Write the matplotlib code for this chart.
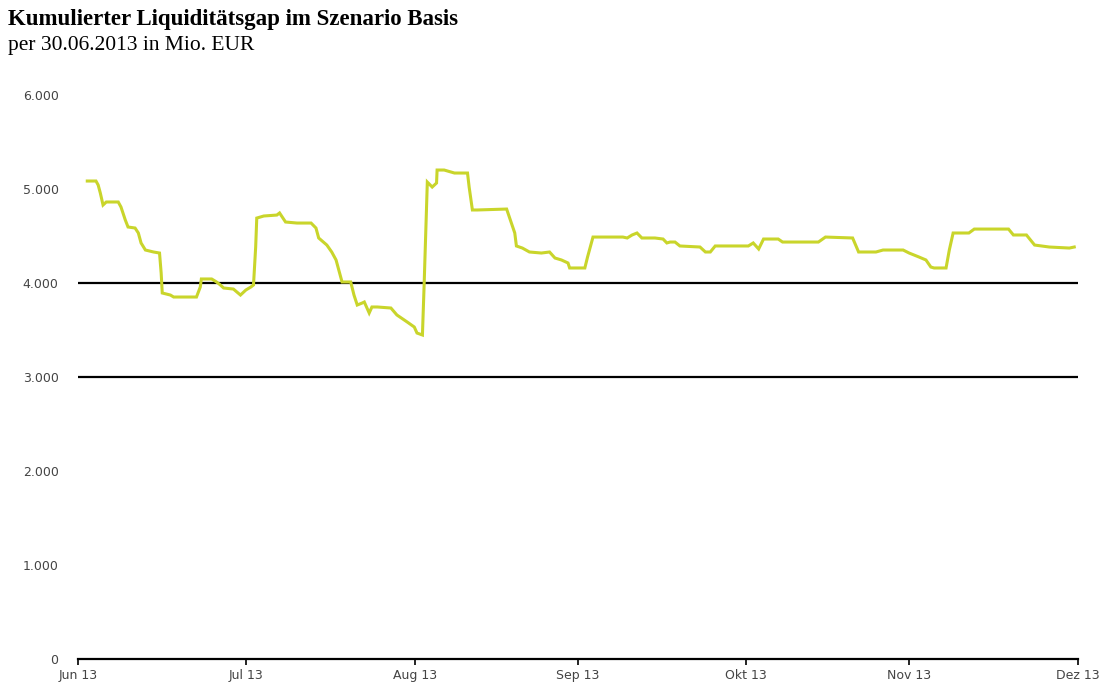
import matplotlib.pyplot as plt
import numpy as np

# Kumulierter Liquiditaetsgap, Tage ab 30.06.2013 und Werte in Mio. EUR
tage = [1.7, 3.3, 3.7, 4.1, 4.6, 5.2, 7.4, 7.9, 8.7, 9.2, 10.5, 11.1, 11.6, 12.4,
        13.9, 15.0, 15.3, 15.5, 17.0, 17.6, 21.8, 22.5, 22.7, 24.6, 25.5, 26.2,
        26.8, 28.6, 29.9, 30.9, 31.8, 32.3, 32.7, 32.9, 34.2, 36.6, 37.1, 38.2,
        40.3, 42.9, 43.8, 44.3, 45.8, 46.7, 47.5, 48.0, 48.6, 50.2, 50.8, 51.4,
        52.3, 52.7, 53.2, 53.6, 54.1, 55.1, 57.6, 58.7, 60.6, 61.9, 62.4, 63.4,
        63.7, 64.3, 65.2, 66.0, 66.1, 67.4, 69.3, 71.7, 72.0, 72.6, 73.5, 78.9,
        79.4, 80.4, 80.7, 81.8, 83.1, 85.3, 86.8, 87.8, 89.0, 90.2, 90.5, 93.3,
        93.8, 94.8, 100.3, 101.1, 102.0, 102.9, 103.8, 106.2, 107.7, 108.4,
        109.0, 109.9, 110.8, 114.5, 115.5, 116.4, 117.3, 123.4, 124.3, 125.3,
        126.2, 128.9, 129.7, 136.3, 137.6, 142.6, 143.7, 146.9, 148.2, 151.9,
        153.0, 154.8, 156.1, 157.0, 157.6, 159.8, 160.4, 161.1, 164.0, 165.0,
        171.3, 172.2, 174.6, 176.1, 178.8, 182.5, 183.4]
gap = [5085, 5085, 5043, 4957, 4830, 4862, 4862, 4809, 4670, 4596, 4585, 4532,
       4426, 4351, 4330, 4319, 4106, 3894, 3872, 3851, 3851, 3957, 4043, 4043,
       4011, 3979, 3947, 3936, 3872, 3926, 3957, 3979, 4383, 4691, 4713, 4723,
       4745, 4649, 4638, 4638, 4585, 4479, 4404, 4330, 4245, 4138, 4011, 4011,
       3872, 3766, 3787, 3798, 3734, 3681, 3745, 3745, 3734, 3660, 3585, 3532,
       3468, 3447, 3957, 5074, 5021, 5064, 5202, 5202, 5170, 5170, 5021, 4777,
       4777, 4787, 4702, 4532, 4394, 4372, 4330, 4319, 4330, 4266, 4245, 4213,
       4160, 4160, 4277, 4489, 4489, 4479, 4511, 4532, 4479, 4479, 4468, 4426,
       4436, 4436, 4394, 4383, 4330, 4330, 4394, 4394, 4426, 4362, 4468, 4468,
       4436, 4436, 4489, 4479, 4330, 4330, 4351, 4351, 4319, 4277, 4245, 4170,
       4160, 4160, 4351, 4532, 4532, 4574, 4574, 4511, 4511, 4404, 4383, 4372,
       4383]

# Monatsenden als Achsenmarken
monat_tage = [0, 31, 62, 92, 123, 153, 184]
monat_labels = ["Jun 13", "Jul 13", "Aug 13", "Sep 13", "Okt 13", "Nov 13", "Dez 13"]
y_ticks = [0, 1000, 2000, 3000, 4000, 5000, 6000]
y_labels = ["0", "1.000", "2.000", "3.000", "4.000", "5.000", "6.000"]
linien = [3000, 4000]

fig = plt.figure(figsize=(11.04, 6.89), dpi=100)
ax = fig.add_axes([0.0707, 0.0435, 0.9053, 0.8186])

# schwarze Referenzlinien
for wert in linien:
    ax.axhline(wert, color="black", linewidth=1.6, zorder=1)

ax.plot(tage, gap, color="#c9d52b", linewidth=2.2, zorder=3,
        solid_joinstyle="miter")

ax.set_xlim(0, 184)
ax.set_ylim(0, 6000)
ax.set_xticks(monat_tage)
ax.set_xticklabels(monat_labels)
ax.set_yticks(y_ticks)
ax.set_yticklabels(y_labels)

for side in ["top", "right", "left"]:
    ax.spines[side].set_visible(False)
ax.spines["bottom"].set_linewidth(1.6)
ax.spines["bottom"].set_color("black")
ax.tick_params(axis="y", length=0, pad=14, labelsize=9, labelcolor="#444444")
ax.tick_params(axis="x", length=4, width=1.2, direction="out", pad=3,
               labelsize=9, labelcolor="#444444")

fig.text(0.007, 0.972, "Kumulierter Liquiditätsgap im Szenario Basis",
         family="Liberation Serif", fontweight="bold", fontsize=16.5,
         ha="left", va="center")
fig.text(0.007, 0.934, "per 30.06.2013 in Mio. EUR",
         family="Liberation Serif", fontsize=15.5,
         ha="left", va="center")

fig.savefig("out.png", dpi=100)
